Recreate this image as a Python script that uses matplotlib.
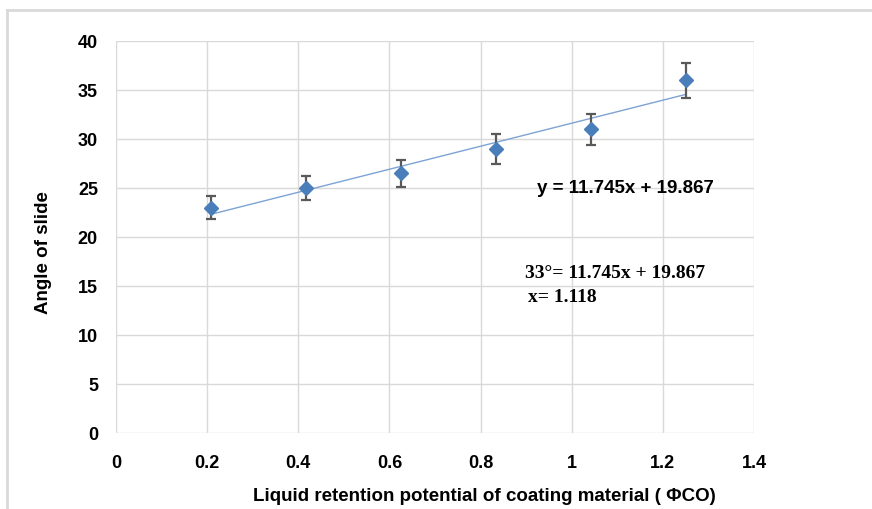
import numpy as np
import matplotlib
matplotlib.use('Agg')
import matplotlib.pyplot as plt
from matplotlib.lines import Line2D

# data
phi_co = [0.2083, 0.4167, 0.625, 0.8333, 1.0417, 1.25]
angle = [23.0, 25.0, 26.5, 29.0, 31.0, 36.0]
err = [1.2, 1.25, 1.35, 1.5, 1.6, 1.8]
slope = 11.745
intercept = 19.867

x_ticks = [0, 0.2, 0.4, 0.6, 0.8, 1, 1.2, 1.4]
x_tick_labels = ['0', '0.2', '0.4', '0.6', '0.8', '1', '1.2', '1.4']
y_ticks = [0, 5, 10, 15, 20, 25, 30, 35, 40]

plt.rcParams['font.family'] = ['Liberation Sans', 'DejaVu Sans']

fig = plt.figure(figsize=(8.72, 5.10), dpi=100)
ax = fig.add_axes([116/872, 1 - 434/510, (754-116)/872, (434-42)/510])

# light frame around the chart area
fig.add_artist(Line2D([7/872, 1], [1 - 11/510, 1 - 11/510], color='#d9d9d9', lw=2))
fig.add_artist(Line2D([7/872, 7/872], [0, 1 - 11/510], color='#d9d9d9', lw=2))

xs = np.array([phi_co[0], phi_co[-1]])
ax.plot(xs, slope*xs + intercept, color='#7da3d4', lw=1, zorder=2)

ax.errorbar(phi_co, angle, yerr=err, fmt='D', color='#4a7ebb', ms=7.5,
            ecolor='#595959', elinewidth=1.6, capsize=3.5, capthick=1.6, zorder=3)

ax.set_xlim(0, 1.4)
ax.set_ylim(0, 40)
ax.set_xticks(x_ticks)
ax.set_xticklabels(x_tick_labels)
ax.set_yticks(y_ticks)
ax.grid(True, color='#d9d9d9', lw=1)
ax.set_axisbelow(True)
for s in ax.spines.values():
    s.set_visible(False)
ax.tick_params(length=0, labelsize=13)
ax.tick_params(axis='x', pad=15)
ax.tick_params(axis='y', pad=13)
for lab in ax.get_xticklabels() + ax.get_yticklabels():
    lab.set_fontweight('bold')

ax.set_xlabel('Liquid retention potential of coating material ( \u03a6CO)',
              fontsize=13.5, fontweight='bold')
ax.set_ylabel('Angle of slide', fontsize=13.5, fontweight='bold')
ax.xaxis.set_label_coords(0.577, -0.138)
ax.yaxis.set_label_coords(-0.100, 0.462)

ax.text(0.924, 25.1, 'y = 11.745x + 19.867', fontsize=13.5, fontweight='bold',
        va='center', ha='left')
ax.text(0.8975, 16.33, '33\u00b0= 11.745x + 19.867', fontsize=14, fontweight='bold',
        family='Liberation Serif', va='center', ha='left')
ax.text(0.904, 13.9, 'x= 1.118', fontsize=14, fontweight='bold',
        family='Liberation Serif', va='center', ha='left')

fig.savefig('out.png', dpi=100)
